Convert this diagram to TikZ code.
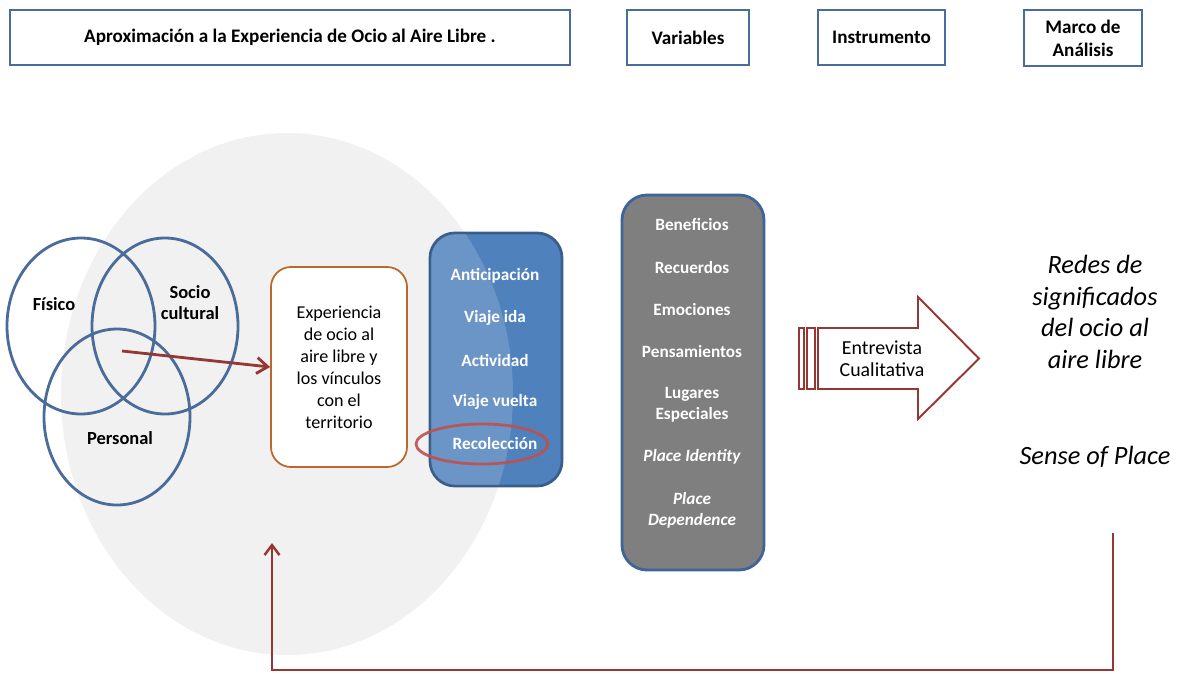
\documentclass[tikz,border=0pt]{standalone}
\usepackage{fontspec}
\setmainfont{Carlito}
\usetikzlibrary{arrows.meta}

\definecolor{marcoazul}{RGB}{74,108,155}
\definecolor{fondoocio}{RGB}{241,241,241}
\definecolor{azulfase}{RGB}{79,129,189}
\definecolor{bordefase}{RGB}{58,94,140}
\definecolor{grisvar}{RGB}{127,127,127}
\definecolor{bordevar}{RGB}{62,100,152}
\definecolor{rojoflecha}{RGB}{149,55,53}
\definecolor{rojomarca}{RGB}{192,80,77}
\definecolor{naranja}{RGB}{186,104,44}

\tikzset{
  header/.style={draw=marcoazul, line width=1.5pt, fill=white, align=center, inner sep=0pt,
    font=\bfseries\fontsize{10.9}{13}\selectfont},
  venn/.style={draw=marcoazul, line width=1.6pt},
  etiqueta/.style={font=\bfseries\fontsize{10.5}{12}\selectfont, align=center},
  fase/.style={text=white, font=\bfseries\fontsize{9.8}{12}\selectfont, align=center},
  itemvar/.style={text=white, font=\bfseries\fontsize{9.8}{11.9}\selectfont, align=center},
  flecharoja/.style={draw=rojoflecha, line width=1.6pt, -{Straight Barb[length=2.2mm, width=3.2mm]}},
  retorno/.style={draw=rojoflecha, line width=1.4pt, -{Straight Barb[length=2mm, width=3mm]}},
}

\begin{document}
\begin{tikzpicture}[x=0.2mm, y=-0.2mm]
\useasboundingbox (0,0) rectangle (1179,673);

% cabeceras
\node [header, minimum width=112mm, minimum height=11mm] (aprox) at (290,37.5) {Aproximación a la Experiencia de Ocio al Aire Libre .};
\node [header, minimum width=24.4mm, minimum height=11mm] (variables) at (688,37.5) {Variables};
\node [header, minimum width=25.4mm, minimum height=11mm] (instrumento) at (881.5,37.5) {Instrumento};
\node [header, minimum width=23.6mm, minimum height=11.2mm] (marco) at (1083,38) {Marco de\\Análisis};

% fondo de la experiencia
\fill [fondoocio] (287,394) ellipse [x radius=226, y radius=261];

% circulos
\draw [venn] (81,326) ellipse [x radius=74, y radius=88];
\draw [venn] (165,326) ellipse [x radius=73, y radius=88];
\draw [venn] (117,417) ellipse [x radius=73, y radius=88];
\node [etiqueta] (fisico) at (54,304) {Físico};
\node [etiqueta] (socio) at (190,303) {Socio\\cultural};
\node [etiqueta] (personal) at (120,438) {Personal};
\coordinate (centro) at (122,351);

% experiencia
\node [draw=naranja, line width=1pt, fill=white, rounded corners=4mm, minimum width=27.2mm, minimum height=40mm,
  align=center, font=\fontsize{10.3}{12.5}\selectfont] (experiencia) at (339,367)
  {Experiencia\\de ocio al\\aire libre y\\los vínculos\\con el\\territorio};
\draw [flecharoja] (centro) -- (experiencia.west);

% fases
\node [draw=bordefase, line width=1.6pt, fill=azulfase, rounded corners=5mm, minimum width=26.4mm, minimum height=50.6mm] (fases) at (496,359.5) {};
\begin{scope}
\clip (287,394) ellipse [x radius=226, y radius=261];
\fill [white, opacity=0.16, rounded corners=5mm] (431,234) rectangle (561,485);
\end{scope}
\foreach \t [count=\i] in {Anticipación, Viaje ida, Actividad, Viaje vuelta, Recolección}
  \node [fase] (fase\i) at (495,{234+42*\i}) {\t};
\draw [rojomarca, line width=1.6pt, opacity=0.9] (482,444) ellipse [x radius=66, y radius=20];

% variables
\node [draw=bordevar, line width=1.6pt, fill=grisvar, rounded corners=5mm, minimum width=28.4mm, minimum height=75mm] (listavar) at (693,382.5) {};
\node [itemvar] (v1) at (692,225) {Beneficios};
\node [itemvar] (v2) at (692,268) {Recuerdos};
\node [itemvar] (v3) at (692,310) {Emociones};
\node [itemvar] (v4) at (692,352) {Pensamientos};
\node [itemvar] (v5) at (692,404.5) {Lugares\\Especiales};
\node [itemvar] (v6) at (692,457) {\itshape Place Identity};
\node [itemvar] (v7) at (692,510.5) {\itshape Place\\\itshape Dependence};

% instrumento
\draw [rojoflecha, line width=1.1pt, fill=white] (818,328) -- (918,328) -- (918,297) -- (979,358.5) -- (918,419) -- (918,389) -- (818,389) -- cycle;
\draw [rojoflecha, line width=1.1pt] (799,328) rectangle (804,389);
\draw [rojoflecha, line width=1.1pt] (807,328) rectangle (815,389);
\node [align=center, font=\fontsize{11.3}{12.5}\selectfont] (entrevista) at (882,359) {Entrevista\\Cualitativa};

% marco de analisis
\node [align=center, font=\itshape\fontsize{15}{18}\selectfont] (redes) at (1095,312) {Redes de\\significados\\del ocio al\\aire libre};
\node [font=\itshape\fontsize{15}{18}\selectfont] (sense) at (1095,457) {Sense of Place};
\coordinate (salida) at (1113,533);
\coordinate (llegada) at (272,543);
\draw [retorno] (salida) -- (1113,670) -| (llegada);

\end{tikzpicture}
\end{document}
